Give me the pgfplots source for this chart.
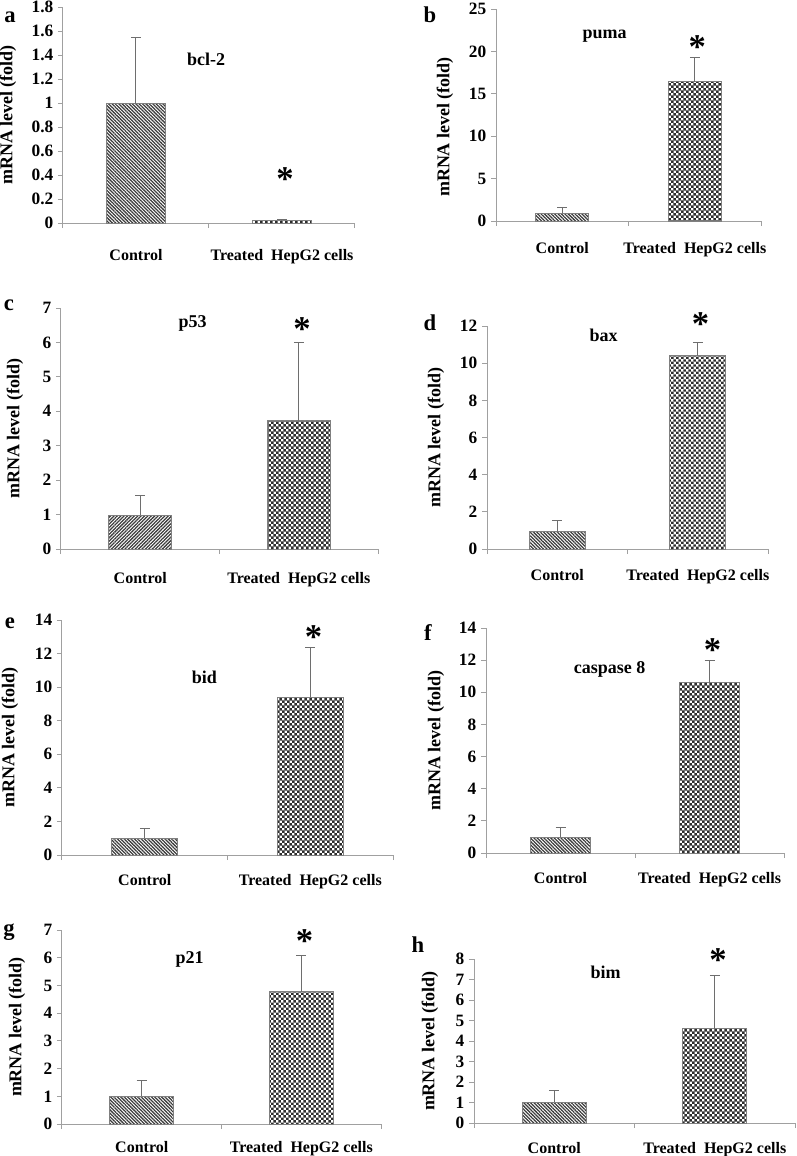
\documentclass[border=0pt]{standalone}
\usepackage{fontspec}
\setmainfont{Liberation Serif}
\usepackage{pgfplots}
\pgfplotsset{compat=1.18}
\usetikzlibrary{patterns,patterns.meta}
\definecolor{axgray}{HTML}{A0A0A0}
\definecolor{bargray}{HTML}{808080}
\definecolor{errgray}{HTML}{6E6E6E}
\definecolor{hatch}{HTML}{3C3C3C}
\definecolor{checker}{HTML}{2E2E2E}
\tikzdeclarepattern{
  name=smallcheck, type=uncolored,
  bottom left={(0pt,0pt)}, top right={(4pt,4pt)},
  tile size={(4pt,4pt)},
  code={
    \fill (0pt,0pt) rectangle (2.1pt,2.1pt);
    \fill (2pt,2pt) rectangle (4pt,4pt);
  }
}
\pgfplotsset{
  panel/.style={
    scale only axis,
    anchor=south west,
    axis x line*=bottom, axis y line*=left,
    axis line style={draw=axgray, line width=0.75pt},
    xmin=-0.5, xmax=1.5, ymin=0,
    xtick={0,1}, xticklabels={Control,Treated\ \ HepG2 cells},
    major x tick style={draw=none},
    minor xtick={-0.5,0.5,1.5},
    tick align=outside,
    major tick length=3.75pt, minor tick length=3.75pt,
    tick style={draw=axgray, line width=0.75pt},
    ticklabel style={font=\fontsize{12}{13}\selectfont\bfseries},
    yticklabel style={font=\fontsize{13}{14}\selectfont\bfseries},
    /pgf/number format/assume math mode=true,
    xticklabel style={text height=0.7em, text depth=0.25em},
    label style={font=\fontsize{13.5}{15}\selectfont\bfseries},
    ylabel={mRNA level (fold)},
    clip=false,
  },
  yl/.style={ylabel style={at={(axis description cs:0,0.5)},anchor=center,yshift=#1}},
  xl/.style={xticklabel style={yshift=-#1}},
  ctrl/.style={ybar, bar width=0.4, draw=bargray, line width=0.75pt,
    pattern={Lines[angle=#1,distance=1.8pt,line width=0.95pt]}, pattern color=hatch,
    error bars/.cd, y dir=plus, y explicit,
    error bar style={draw=errgray, line width=0.75pt},
    error mark options={rotate=90, draw=errgray, line width=0.75pt, mark size=3.75pt}},
  ctrl/.default=-45,
  treat/.style={ybar, bar width=0.4, draw=bargray, line width=0.75pt,
    pattern=smallcheck, pattern color=checker,
    error bars/.cd, y dir=plus, y explicit,
    error bar style={draw=errgray, line width=0.75pt},
    error mark options={rotate=90, draw=errgray, line width=0.75pt, mark size=3.75pt}},
}
\tikzset{
  gene/.style={font=\fontsize{13.5}{15}\selectfont\bfseries},
  star/.style={font=\fontsize{26}{28}\selectfont\bfseries},
  letter/.style={font=\fontsize{17}{19}\selectfont\bfseries},
}
\begin{document}
\begin{tikzpicture}
\path[use as bounding box] (0pt,0pt) rectangle (597pt,-867pt);
% a
\begin{axis}[panel, at={(47.25pt,-167.25pt)}, width=219pt, height=162pt,
  ymax=1.8, ytick={0,0.2,0.4,0.6,0.8,1,1.2,1.4,1.6,1.8}, yl=41.25pt, xl=13.5pt]
\addplot[ctrl] coordinates {(0,0.995) +- (0,0.55)};
\addplot[treat] coordinates {(1,0.02) +- (0,0.012)};
\node[gene] at (axis cs:0.48,1.36) {bcl-2};
\node[star] at (axis cs:1.02,0.37) {*};
\end{axis}
% b
\begin{axis}[panel, at={(372pt,-165.75pt)}, width=198.75pt, height=159pt,
  ymax=25, ytick={0,5,10,15,20,25}, yl=38.25pt, xl=10pt,
  ylabel style={xshift=-9pt}]
\addplot[ctrl] coordinates {(0,0.91) +- (0,0.66)};
\addplot[treat] coordinates {(1,16.4) +- (0,2.9)};
\node[gene] at (axis cs:0.32,21.8) {puma};
\node[star] at (axis cs:1.02,20.5) {*};
\end{axis}
% c
\begin{axis}[panel, at={(45.75pt,-411.75pt)}, width=237.75pt, height=180.75pt,
  ymax=7, ytick={0,1,2,3,4,5,6,7}, yl=34.5pt, xl=11.5pt]
\addplot[ctrl=45] coordinates {(0,0.98) +- (0,0.56)};
\addplot[treat] coordinates {(1,3.72) +- (0,2.27)};
\node[gene] at (axis cs:0.33,6.56) {p53};
\node[star] at (axis cs:1.02,6.4) {*};
\end{axis}
% d
\begin{axis}[panel, at={(365.25pt,-411.75pt)}, width=210.75pt, height=167.25pt,
  ymax=12, ytick={0,2,4,6,8,10,12}, yl=38.25pt, xl=9pt]
\addplot[ctrl] coordinates {(0,0.93) +- (0,0.59)};
\addplot[treat] coordinates {(1,10.4) +- (0,0.72)};
\node[gene] at (axis cs:0.33,11.5) {bax};
\node[star] at (axis cs:1.02,12.1) {*};
\end{axis}
% e
\begin{axis}[panel, at={(46.5pt,-641.25pt)}, width=248.25pt, height=176.25pt,
  ymax=14, ytick={0,2,4,6,8,10,12,14}, yl=39pt, xl=8.5pt]
\addplot[ctrl] coordinates {(0,0.99) +- (0,0.6)};
\addplot[treat] coordinates {(1,9.39) +- (0,2.98)};
\node[gene] at (axis cs:0.36,10.6) {bid};
\node[star] at (axis cs:1.02,13.0) {*};
\end{axis}
% f
\begin{axis}[panel, at={(364.5pt,-639.75pt)}, width=223.5pt, height=168.75pt,
  ymax=14, ytick={0,2,4,6,8,10,12,14}, yl=37.5pt, xl=8.5pt]
\addplot[ctrl] coordinates {(0,0.98) +- (0,0.59)};
\addplot[treat] coordinates {(1,10.6) +- (0,1.35)};
\node[gene] at (axis cs:0.33,11.4) {caspase 8};
\node[star] at (axis cs:1.02,12.6) {*};
\end{axis}
% g
\begin{axis}[panel, at={(46.5pt,-843pt)}, width=239.25pt, height=145.5pt,
  ymax=7, ytick={0,1,2,3,4,5,6,7}, yl=33.75pt, xl=7pt]
\addplot[ctrl] coordinates {(0,1.01) +- (0,0.55)};
\addplot[treat] coordinates {(1,4.77) +- (0,1.3)};
\node[gene] at (axis cs:0.30,5.92) {p21};
\node[star] at (axis cs:1.02,6.6) {*};
\end{axis}
% h
\begin{axis}[panel, at={(355.5pt,-842.25pt)}, width=240.75pt, height=123pt,
  ymax=8, ytick={0,1,2,3,4,5,6,7,8}, yl=33pt, xl=8.5pt]
\addplot[ctrl] coordinates {(0,1.01) +- (0,0.57)};
\addplot[treat] coordinates {(1,4.59) +- (0,2.63)};
\node[gene] at (axis cs:0.32,7.37) {bim};
\node[star] at (axis cs:1.02,7.95) {*};
\end{axis}
% panel letters
\node[letter] at (7.5pt,-12.75pt) {a};
\node[letter] at (322.5pt,-11.25pt) {b};
\node[letter] at (6.75pt,-228.75pt) {c};
\node[letter] at (322.5pt,-242.25pt) {d};
\node[letter] at (7.5pt,-467.25pt) {e};
\node[letter] at (321pt,-474.75pt) {f};
\node[letter] at (6.75pt,-699pt) {g};
\node[letter] at (313.5pt,-708.75pt) {h};
\end{tikzpicture}
\end{document}
